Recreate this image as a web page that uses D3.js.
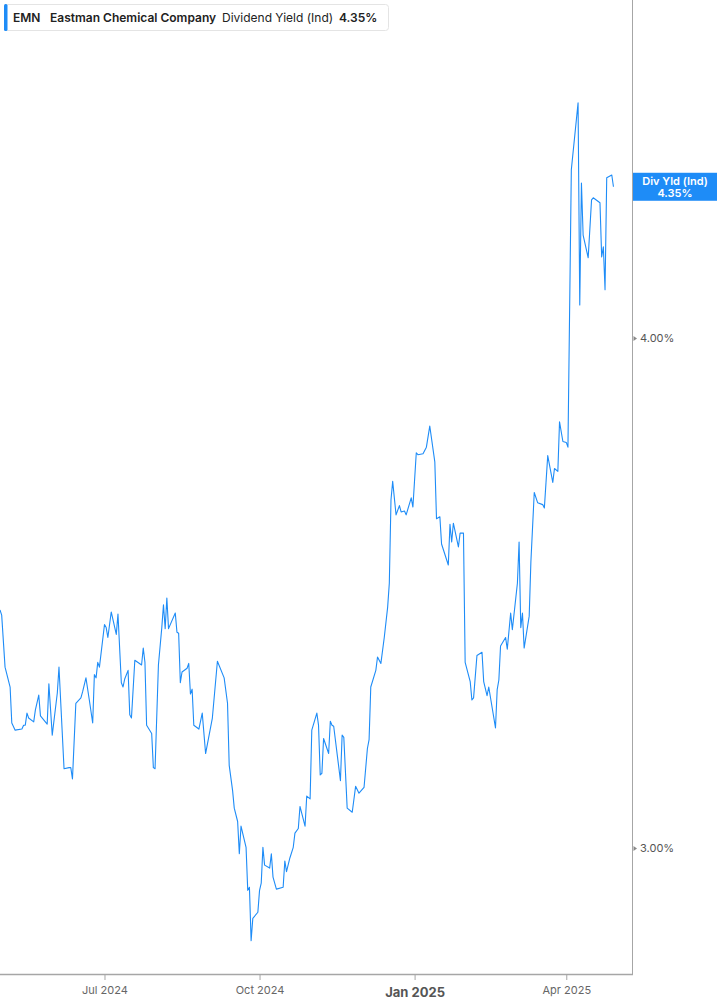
<!DOCTYPE html>
<html>
<head>
<meta charset="utf-8">
<script src="https://cdn.jsdelivr.net/npm/d3@7"></script>
<style>
  body { margin: 0; background: #fff; }
  svg text { font-family: Inter, "Noto Sans", sans-serif; }
</style>
</head>
<body>
<svg id="chart" width="717" height="1005"></svg>
<script>
// daily dividend yield (%)
const dates = [
  "2024-04-30","2024-05-01","2024-05-03","2024-05-06","2024-05-07","2024-05-09","2024-05-13","2024-05-14","2024-05-15","2024-05-16",
  "2024-05-17","2024-05-20","2024-05-21","2024-05-23","2024-05-24","2024-05-28","2024-05-29","2024-05-31","2024-06-03","2024-06-04",
  "2024-06-07","2024-06-10","2024-06-11","2024-06-12","2024-06-14","2024-06-17","2024-06-18","2024-06-20","2024-06-22","2024-06-24",
  "2024-06-25","2024-06-26","2024-06-27","2024-06-28","2024-07-01","2024-07-02","2024-07-03","2024-07-05","2024-07-08","2024-07-09",
  "2024-07-11","2024-07-12","2024-07-13","2024-07-15","2024-07-16","2024-07-17","2024-07-19","2024-07-23","2024-07-24","2024-07-25",
  "2024-07-26","2024-07-29","2024-07-30","2024-07-31","2024-08-02","2024-08-04","2024-08-05","2024-08-06","2024-08-07","2024-08-08",
  "2024-08-12","2024-08-13","2024-08-14","2024-08-15","2024-08-16","2024-08-19","2024-08-20","2024-08-21","2024-08-22","2024-08-23",
  "2024-08-26","2024-08-28","2024-08-30","2024-09-03","2024-09-06","2024-09-10","2024-09-12","2024-09-13","2024-09-15","2024-09-16",
  "2024-09-18","2024-09-19","2024-09-20","2024-09-23","2024-09-24","2024-09-25","2024-09-26","2024-09-27","2024-09-30","2024-10-01",
  "2024-10-02","2024-10-03","2024-10-04","2024-10-07","2024-10-08","2024-10-09","2024-10-11","2024-10-15","2024-10-16","2024-10-17",
  "2024-10-19","2024-10-21","2024-10-22","2024-10-24","2024-10-25","2024-10-28","2024-10-29","2024-10-31","2024-11-01","2024-11-04",
  "2024-11-05","2024-11-06","2024-11-07","2024-11-08","2024-11-11","2024-11-12","2024-11-13","2024-11-14","2024-11-18","2024-11-19",
  "2024-11-20","2024-11-22","2024-11-25","2024-11-27","2024-11-29","2024-12-02","2024-12-04","2024-12-05","2024-12-06","2024-12-09",
  "2024-12-10","2024-12-12","2024-12-14","2024-12-16","2024-12-17","2024-12-18","2024-12-19","2024-12-21","2024-12-23","2024-12-24",
  "2024-12-26","2024-12-27","2024-12-30","2024-12-31","2025-01-02","2025-01-03","2025-01-06","2025-01-08","2025-01-10","2025-01-13",
  "2025-01-14","2025-01-16","2025-01-17","2025-01-21","2025-01-22","2025-01-23","2025-01-24","2025-01-27","2025-01-28","2025-01-30",
  "2025-01-31","2025-02-03","2025-02-04","2025-02-05","2025-02-07","2025-02-10","2025-02-11","2025-02-13","2025-02-14","2025-02-18",
  "2025-02-19","2025-02-20","2025-02-21","2025-02-24","2025-02-25","2025-02-27","2025-02-28","2025-03-03","2025-03-04","2025-03-05",
  "2025-03-06","2025-03-07","2025-03-10","2025-03-11","2025-03-13","2025-03-15","2025-03-18","2025-03-19","2025-03-21","2025-03-24",
  "2025-03-25","2025-03-27","2025-03-28","2025-03-30","2025-04-01","2025-04-02","2025-04-04","2025-04-08","2025-04-09","2025-04-10",
  "2025-04-11","2025-04-14","2025-04-16","2025-04-17","2025-04-21","2025-04-22","2025-04-23","2025-04-24","2025-04-25","2025-04-28",
  "2025-04-29"
];
const yields = [
  3.431,3.421,3.322,3.285,3.219,3.206,3.208,3.215,3.215,3.237,
  3.228,3.221,3.243,3.270,3.232,3.217,3.291,3.197,3.274,3.322,
  3.137,3.139,3.139,3.119,3.255,3.265,3.276,3.302,3.261,3.219,
  3.308,3.302,3.331,3.322,3.403,3.397,3.378,3.427,3.384,3.423,
  3.293,3.285,3.300,3.316,3.234,3.228,3.335,3.326,3.358,3.331,
  3.215,3.200,3.139,3.137,3.326,3.397,3.441,3.395,3.454,3.395,
  3.425,3.388,3.386,3.293,3.313,3.320,3.329,3.272,3.281,3.215,
  3.208,3.237,3.164,3.228,3.333,3.302,3.255,3.143,3.099,3.068,
  3.045,2.990,3.037,3.001,2.929,2.934,2.847,2.883,2.893,2.929,
  2.941,3.001,2.971,2.966,2.990,2.951,2.931,2.934,2.978,2.960,
  2.983,3.001,3.025,3.033,3.071,3.037,3.089,3.084,3.206,3.237,
  3.215,3.126,3.129,3.191,3.164,3.222,3.215,3.213,3.116,3.197,
  3.193,3.068,3.061,3.106,3.094,3.104,3.173,3.189,3.285,3.316,
  3.341,3.329,3.378,3.436,3.483,3.651,3.689,3.620,3.639,3.626,
  3.628,3.620,3.655,3.636,3.749,3.745,3.747,3.761,3.806,3.730,
  3.612,3.616,3.561,3.519,3.601,3.565,3.603,3.555,3.583,3.583,
  3.331,3.295,3.261,3.265,3.344,3.350,3.295,3.269,3.285,3.210,
  3.280,3.298,3.362,3.378,3.356,3.425,3.393,3.483,3.565,3.397,
  3.425,3.358,3.419,3.525,3.666,3.645,3.641,3.634,3.743,3.687,
  3.716,3.710,3.815,3.773,3.771,3.761,4.398,4.567,4.075,4.365,
  4.239,4.185,4.324,4.329,4.317,4.187,4.211,4.110,4.378,4.385,
  4.356
];

const xTickDates = ["2024-07-01", "2024-10-01", "2025-01-01", "2025-04-01"];
const xTickLabels = ["Jul 2024", "Oct 2024", "Jan 2025", "Apr 2025"];
const yTickValues = [3.0, 4.0];
const yTickLabels = ["3.00%", "4.00%"];

const ticker = "EMN";
const company = "Eastman Chemical Company";
const metric = "Dividend Yield (Ind)";
const lastLabel = "4.35%";

const BLUE = "#1e8cf7";
const W = 717, H = 1005;
const plot = { left: 0, right: 632, top: 0, bottom: 974 };

const parse = d3.utcParse("%Y-%m-%d");
const data = dates.map((d, i) => ({ date: parse(d), value: yields[i] }));

const x = d3.scaleUtc()
  .domain([parse("2024-04-30"), parse("2025-05-10")])
  .range([plot.left, plot.right]);

const y = d3.scaleLog()
  .domain([2.794, 4.84])
  .range([plot.bottom, plot.top]);

const svg = d3.select("#chart");

svg.append("rect").attr("width", W).attr("height", H).attr("fill", "#fff");

// clip for the series
svg.append("clipPath").attr("id", "plotclip")
  .append("rect")
  .attr("x", plot.left).attr("y", plot.top)
  .attr("width", plot.right - plot.left).attr("height", plot.bottom - plot.top);

// series line
const line = d3.line()
  .x(d => x(d.date))
  .y(d => y(d.value));

svg.append("path")
  .datum(data)
  .attr("clip-path", "url(#plotclip)")
  .attr("fill", "none")
  .attr("stroke", BLUE)
  .attr("stroke-width", 1.1)
  .attr("stroke-linejoin", "round")
  .attr("d", line);

// right border / y axis
svg.append("line")
  .attr("x1", plot.right + 0.5).attr("x2", plot.right + 0.5)
  .attr("y1", 0).attr("y2", plot.bottom)
  .attr("stroke", "#a6a6a6").attr("stroke-width", 1);

// bottom axis
const xAxis = d3.axisBottom(x)
  .tickValues(xTickDates.map(parse))
  .tickSize(6)
  .tickFormat((d, i) => xTickLabels[i]);

const gx = svg.append("g")
  .attr("transform", `translate(0,${plot.bottom})`)
  .call(xAxis);
gx.select(".domain")
  .attr("d", `M${plot.left},0.5H${plot.right + 1}`)
  .attr("stroke", "#a6a6a6").attr("stroke-width", 1.5);
gx.selectAll(".tick line").attr("stroke", "#a6a6a6").attr("y1", 0).attr("y2", 6);
gx.selectAll(".tick text")
  .attr("y", 12)
  .attr("fill", "#666")
  .attr("font-size", 11)
  .attr("font-family", "Inter, 'Noto Sans', sans-serif")
  .filter((d, i) => xTickLabels[i].startsWith("Jan"))
  .attr("y", 14)
  .attr("font-size", 13)
  .attr("font-weight", 700)
  .attr("fill", "#555");

// right axis ticks
const yAxis = d3.axisRight(y)
  .tickValues(yTickValues)
  .tickSize(0)
  .tickPadding(8)
  .tickFormat((d, i) => yTickLabels[i]);

const gy = svg.append("g")
  .attr("transform", `translate(${plot.right},0)`)
  .call(yAxis);
gy.select(".domain").remove();
gy.selectAll(".tick").append("path")
  .attr("d", "M1.5,-2.5L5,0L1.5,2.5Z")
  .attr("fill", "#888");
gy.selectAll(".tick text")
  .attr("fill", "#555")
  .attr("font-size", 11)
  .attr("font-family", "Inter, 'Noto Sans', sans-serif");

// last value flag on the right
const last = data[data.length - 1];
const ly = y(last.value);
const flag = svg.append("g");
flag.append("rect")
  .attr("x", plot.right + 1).attr("y", ly - 14)
  .attr("width", W - plot.right - 1).attr("height", 28)
  .attr("fill", BLUE);
flag.append("text")
  .attr("x", 675).attr("y", ly - 2)
  .attr("text-anchor", "middle")
  .attr("fill", "#fff").attr("font-size", 11).attr("font-weight", 600)
  .text("Div Yld (Ind)");
flag.append("text")
  .attr("x", 675).attr("y", ly + 10)
  .attr("text-anchor", "middle")
  .attr("fill", "#fff").attr("font-size", 11).attr("font-weight", 600)
  .text(lastLabel);

// legend box
const legend = svg.append("g");
legend.append("rect")
  .attr("x", 4.5).attr("y", 4.5).attr("width", 384).attr("height", 26)
  .attr("rx", 3)
  .attr("fill", "#fff").attr("stroke", "#e4e4e4");
legend.append("rect")
  .attr("x", 4).attr("y", 4).attr("width", 3.5).attr("height", 27)
  .attr("rx", 1.5)
  .attr("fill", BLUE);

const legendItems = [
  { text: ticker, x: 13, weight: 600 },
  { text: company, x: 50, weight: 600 },
  { text: metric, x: 222, weight: 400 },
  { text: lastLabel, x: 339, weight: 600 }
];
legend.selectAll("text.leg")
  .data(legendItems)
  .join("text")
  .attr("class", "leg")
  .attr("x", d => d.x)
  .attr("y", 21.5)
  .attr("font-size", 12)
  .attr("font-weight", d => d.weight)
  .attr("fill", "#222")
  .text(d => d.text);
</script>
</body>
</html>
